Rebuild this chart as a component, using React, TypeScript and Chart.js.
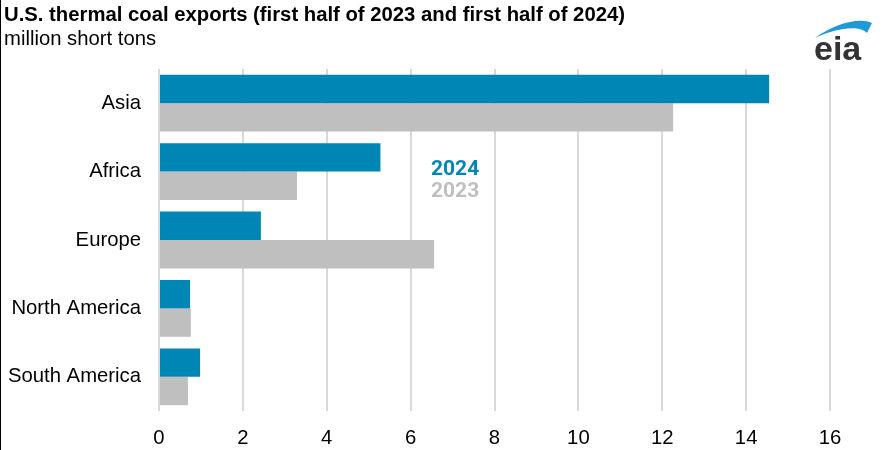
import React, { useEffect, useRef } from "react";
import { Chart, registerables } from "chart.js";

Chart.register(...registerables);

const categories = ["Asia", "Africa", "Europe", "North America", "South America"];
const values2024 = [14.55, 5.28, 2.43, 0.74, 0.98];
const values2023 = [12.26, 3.29, 6.56, 0.76, 0.69];
const xTicks = [0, 2, 4, 6, 8, 10, 12, 14, 16];

const BLUE = "#0086b4";
const GRAY = "#bfbfbf";
const FONT = "'Liberation Sans', Arial, sans-serif";

export default function App() {
  const ref = useRef<HTMLCanvasElement | null>(null);

  useEffect(() => {
    document.body.style.margin = "0";
    const ctx = ref.current!.getContext("2d")!;
    const chart = new Chart(ctx, {
      type: "bar",
      data: {
        labels: categories,
        datasets: [
          { label: "2024", data: values2024, backgroundColor: BLUE, borderWidth: 0 },
          { label: "2023", data: values2023, backgroundColor: GRAY, borderWidth: 0 },
        ],
      },
      options: {
        indexAxis: "y",
        responsive: false,
        animation: false,
        datasets: { bar: { categoryPercentage: 0.83, barPercentage: 1 } },
        layout: { padding: { top: 69, right: 65, bottom: 0, left: 0 } },
        plugins: { legend: { display: false }, tooltip: { enabled: false }, title: { display: false } },
        scales: {
          x: {
            min: 0,
            max: 16,
            afterBuildTicks: (s: any) => {
              s.ticks = xTicks.map((v) => ({ value: v }));
            },
            afterFit: (s: any) => {
              s.height = 39;
            },
            grid: { color: "#d9d9d9", lineWidth: 2, drawTicks: false },
            border: { display: false },
            ticks: { color: "#000", padding: 15, font: { family: FONT, size: 20.3 } },
          },
          y: {
            afterFit: (s: any) => {
              s.width = 159;
            },
            grid: { display: false, drawTicks: false },
            border: { display: false },
            ticks: { color: "#000", padding: 18, font: { family: FONT, size: 20.3 } },
          },
        },
      },
    });
    return () => chart.destroy();
  }, []);

  return (
    <div style={{ position: "absolute", left: 0, top: 0, width: 895, height: 450, background: "#fff", overflow: "hidden" }}>
      <canvas ref={ref} width={895} height={450} style={{ position: "absolute", left: 0, top: 0 }} />
      <div style={{ position: "absolute", left: 0, top: 0, width: 1, height: 450, background: "#000" }} />
      <div style={{ position: "absolute", left: 4, top: 3, fontFamily: FONT, fontSize: 20.3, fontWeight: "bold", color: "#000", lineHeight: "22px", whiteSpace: "nowrap" }}>
        U.S. thermal coal exports (first half of 2023 and first half of 2024)
      </div>
      <div style={{ position: "absolute", left: 4, top: 27, fontFamily: FONT, fontSize: 20.3, color: "#000", lineHeight: "22px", whiteSpace: "nowrap" }}>
        million short tons
      </div>
      <div style={{ position: "absolute", left: 431, top: 157, fontFamily: "Roboto, sans-serif", fontSize: 21, fontWeight: "bold", lineHeight: "22px" }}>
        <div style={{ color: BLUE }}>2024</div>
        <div style={{ color: GRAY }}>2023</div>
      </div>
      <svg style={{ position: "absolute", left: 805, top: 15 }} width={80} height={55} viewBox="0 0 80 55">
        <path d="M10 23 C 30 8, 55 2, 67 8 C 66 10, 64 14, 62 18 C 56 10, 32 12, 10 23 Z" fill="#1e9ad6" />
        <text x={9} y={45} fontFamily="'Liberation Sans', Arial, sans-serif" fontSize={34} fontWeight="bold" fill="#333">eia</text>
      </svg>
    </div>
  );
}
